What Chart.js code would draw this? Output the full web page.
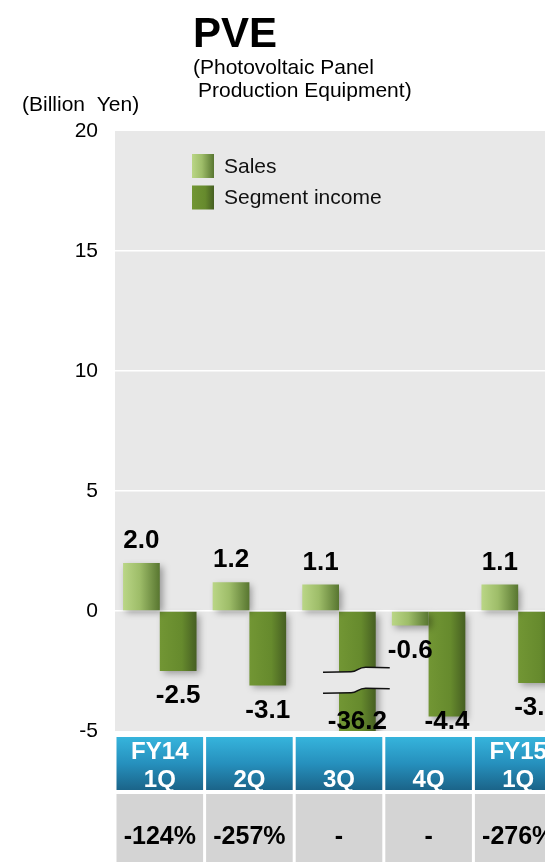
<!DOCTYPE html>
<html>
<head>
<meta charset="utf-8">
<script src="https://cdn.jsdelivr.net/npm/chart.js@4.4.1/dist/chart.umd.min.js"></script>
<style>
  html, body { margin: 0; padding: 0; background: #fff; overflow: hidden; width: 545px; height: 862px; }
  #wrap { position: relative; width: 575px; height: 862px; }
</style>
</head>
<body>
<div id="wrap"><canvas id="chart" width="575" height="862"></canvas></div>
<script>
// Quarterly figures, billion yen
const quarters = [["FY14", "1Q"], ["2Q"], ["3Q"], ["4Q"], ["FY15", "1Q"]];
const sales = [2.0, 1.2, 1.1, -0.6, 1.1];
const segmentIncome = [-2.5, -3.1, -36.2, -4.4, -3.0];
const incomeRatio = ["-124%", "-257%", "-", "-", "-276%"];
const yTickValues = [-5, 0, 5, 10, 15, 20];

const FONT = '"Liberation Sans", Arial, Helvetica, sans-serif';
const PLOT_BG = '#e8e8e8';
const CAT_PCT = 0.82;

const salesStops = [[0, '#bad686'], [0.45, '#9ebd69'], [1, '#587630']];
const incomeStops = [[0, '#729634'], [0.6, '#668a2d'], [1, '#465f22']];

// Horizontal gradient across one bar, computed from the category scale
function barFill(stops, fallback) {
  return (c) => {
    const chart = c.chart;
    const xs = chart.scales && chart.scales.x;
    if (!xs || c.dataIndex == null || !xs.width) return fallback;
    const cw = xs.width / quarters.length;
    const group = cw * CAT_PCT;
    const center = xs.getPixelForValue(c.dataIndex);
    const left = c.datasetIndex === 0 ? center - group / 2 : center;
    const g = chart.ctx.createLinearGradient(left, 0, left + group / 2, 0);
    stops.forEach(([o, col]) => g.addColorStop(o, col));
    return g;
  };
}

// Grey plot backdrop
const plotBackground = {
  id: 'plotBackground',
  beforeDraw(chart) {
    const { ctx, chartArea: a } = chart;
    ctx.save();
    ctx.fillStyle = PLOT_BG;
    ctx.fillRect(a.left, a.top, a.right - a.left, a.bottom - a.top);
    ctx.restore();
  }
};

// Soft drop shadow under the bars
const barShadow = {
  id: 'barShadow',
  beforeDatasetsDraw(chart) {
    const ctx = chart.ctx;
    ctx.save();
    ctx.shadowColor = 'rgba(0,0,0,0.35)';
    ctx.shadowBlur = 7;
    ctx.shadowOffsetX = 3;
    ctx.shadowOffsetY = 3;
  },
  afterDatasetsDraw(chart) {
    chart.ctx.restore();
  }
};

// Wavy break marks on bars that run past the bottom of the axis
const axisBreak = {
  id: 'axisBreak',
  afterDatasetsDraw(chart) {
    const { ctx, chartArea: a } = chart;
    const ys = chart.scales.y;
    const meta = chart.getDatasetMeta(1);
    segmentIncome.forEach((v, i) => {
      if (ys.getPixelForValue(v) <= a.bottom) return;
      const el = meta.data[i];
      const half = el.width / 2;
      const x0 = el.x - half - 16, x1 = el.x + half + 14;
      const yTop = ys.getPixelForValue(-2.45);
      const yBot = ys.getPixelForValue(-3.32);
      const w = x1 - x0;
      ctx.save();
      // gap between the two strokes
      ctx.beginPath();
      ctx.moveTo(x0, yTop + 2.5);
      ctx.lineTo(x0 + w * 0.42, yTop + 2);
      ctx.bezierCurveTo(x0 + w * 0.52, yTop + 2, x0 + w * 0.52, yTop - 2.5, x0 + w * 0.64, yTop - 2.5);
      ctx.lineTo(x1, yTop - 2);
      ctx.lineTo(x1, yBot - 2);
      ctx.lineTo(x0 + w * 0.64, yBot - 2.5);
      ctx.bezierCurveTo(x0 + w * 0.52, yBot - 2.5, x0 + w * 0.52, yBot + 2, x0 + w * 0.42, yBot + 2);
      ctx.lineTo(x0, yBot + 2.5);
      ctx.closePath();
      ctx.fillStyle = PLOT_BG;
      ctx.fill();
      // the two strokes
      ctx.strokeStyle = '#111';
      ctx.lineWidth = 1.5;
      [yTop, yBot].forEach((y) => {
        ctx.beginPath();
        ctx.moveTo(x0, y + 2.5);
        ctx.lineTo(x0 + w * 0.42, y + 2);
        ctx.bezierCurveTo(x0 + w * 0.52, y + 2, x0 + w * 0.52, y - 2.5, x0 + w * 0.64, y - 2.5);
        ctx.lineTo(x1, y - 2);
        ctx.stroke();
      });
      ctx.restore();
    });
  }
};

// Value labels above positive bars and below negative ones
const valueLabels = {
  id: 'valueLabels',
  afterDatasetsDraw(chart) {
    const { ctx, chartArea: a } = chart;
    ctx.save();
    ctx.font = 'bold 26px ' + FONT;
    ctx.fillStyle = '#000';
    ctx.textAlign = 'center';
    ctx.textBaseline = 'middle';
    chart.data.datasets.forEach((ds, di) => {
      const meta = chart.getDatasetMeta(di);
      meta.data.forEach((el, i) => {
        const v = ds.data[i];
        const y = v >= 0 ? el.y - 22 : Math.min(el.y + 25, a.bottom - 9);
        ctx.fillText(v.toFixed(1), el.x, y);
      });
    });
    ctx.restore();
  }
};

// Title, unit, legend and the quarter / ratio table
const decorations = {
  id: 'decorations',
  afterDraw(chart) {
    const { ctx, chartArea: a } = chart;
    const xs = chart.scales.x;
    ctx.save();
    ctx.fillStyle = '#000';
    ctx.textBaseline = 'alphabetic';
    ctx.textAlign = 'left';
    ctx.font = 'bold 42px ' + FONT;
    ctx.fillText('PVE', 193, 47);
    ctx.font = '21px ' + FONT;
    ctx.fillText('(Photovoltaic Panel', 193, 74);
    ctx.fillText('Production Equipment)', 198, 97);
    ctx.fillText('(Billion  Yen)', 22, 111);

    // legend
    const items = [
      { label: chart.data.datasets[0].label, stops: salesStops },
      { label: chart.data.datasets[1].label, stops: incomeStops }
    ];
    const lx = a.left + 77;
    items.forEach((it, k) => {
      const top = a.top + 23 + k * 31.5;
      const g = ctx.createLinearGradient(lx, 0, lx + 22, 0);
      it.stops.forEach(([o, col]) => g.addColorStop(o, col));
      ctx.fillStyle = g;
      ctx.fillRect(lx, top, 22, 24);
      ctx.fillStyle = '#111';
      ctx.font = '21px ' + FONT;
      ctx.textBaseline = 'middle';
      ctx.fillText(it.label, lx + 32, top + 13);
    });

    // table under the plot
    const n = quarters.length;
    const cw = xs.width / n;
    const hTop = a.bottom + 6, hH = 53;
    const bTop = a.bottom + 63, bH = chart.height - bTop;
    for (let i = 0; i < n; i++) {
      const left = xs.left + i * cw + 1.5;
      const w = cw - 3;
      const cx = left + w / 2;
      const g = ctx.createLinearGradient(0, hTop, 0, hTop + hH);
      g.addColorStop(0, '#36b4dc');
      g.addColorStop(0.5, '#2690bd');
      g.addColorStop(1, '#1b6489');
      ctx.fillStyle = g;
      ctx.fillRect(left, hTop, w, hH);
      ctx.fillStyle = '#d4d4d4';
      ctx.fillRect(left, bTop, w, bH);

      ctx.textAlign = 'center';
      ctx.textBaseline = 'middle';
      ctx.fillStyle = '#fff';
      ctx.font = 'bold 24px ' + FONT;
      const lines = quarters[i];
      lines.forEach((t, k) => {
        const y = hTop + 43 - (lines.length - 1 - k) * 28;
        ctx.fillText(t, cx, y);
      });
      ctx.fillStyle = '#000';
      ctx.font = 'bold 25px ' + FONT;
      ctx.fillText(incomeRatio[i], cx, bTop + 43);
    }
    ctx.restore();
  }
};

new Chart(document.getElementById('chart'), {
  type: 'bar',
  data: {
    labels: quarters,
    datasets: [
      {
        label: 'Sales',
        data: sales,
        backgroundColor: barFill(salesStops, '#9ebd69'),
        borderWidth: 0,
        barPercentage: 1.0,
        categoryPercentage: CAT_PCT
      },
      {
        label: 'Segment income',
        data: segmentIncome,
        backgroundColor: barFill(incomeStops, '#668a2d'),
        borderWidth: 0,
        barPercentage: 1.0,
        categoryPercentage: CAT_PCT
      }
    ]
  },
  options: {
    responsive: false,
    animation: false,
    devicePixelRatio: 1,
    layout: { padding: { top: 131, bottom: 131, left: 0, right: 12 } },
    plugins: {
      legend: { display: false },
      tooltip: { enabled: false }
    },
    scales: {
      x: {
        display: false,
        offset: true,
        grid: { display: false }
      },
      y: {
        min: -5,
        max: 20,
        afterBuildTicks(scale) {
          scale.ticks = yTickValues.map((v) => ({ value: v }));
        },
        afterFit(scale) { scale.width = 115; },
        border: { display: false },
        grid: {
          drawTicks: false,
          lineWidth: 1.5,
          color: (c) => (c.tick && (c.tick.value === 20 || c.tick.value === -5)) ? 'rgba(0,0,0,0)' : '#ffffff'
        },
        ticks: {
          padding: 17,
          color: '#000',
          font: { family: FONT, size: 21 }
        }
      }
    }
  },
  plugins: [plotBackground, barShadow, axisBreak, valueLabels, decorations]
});
</script>
</body>
</html>
